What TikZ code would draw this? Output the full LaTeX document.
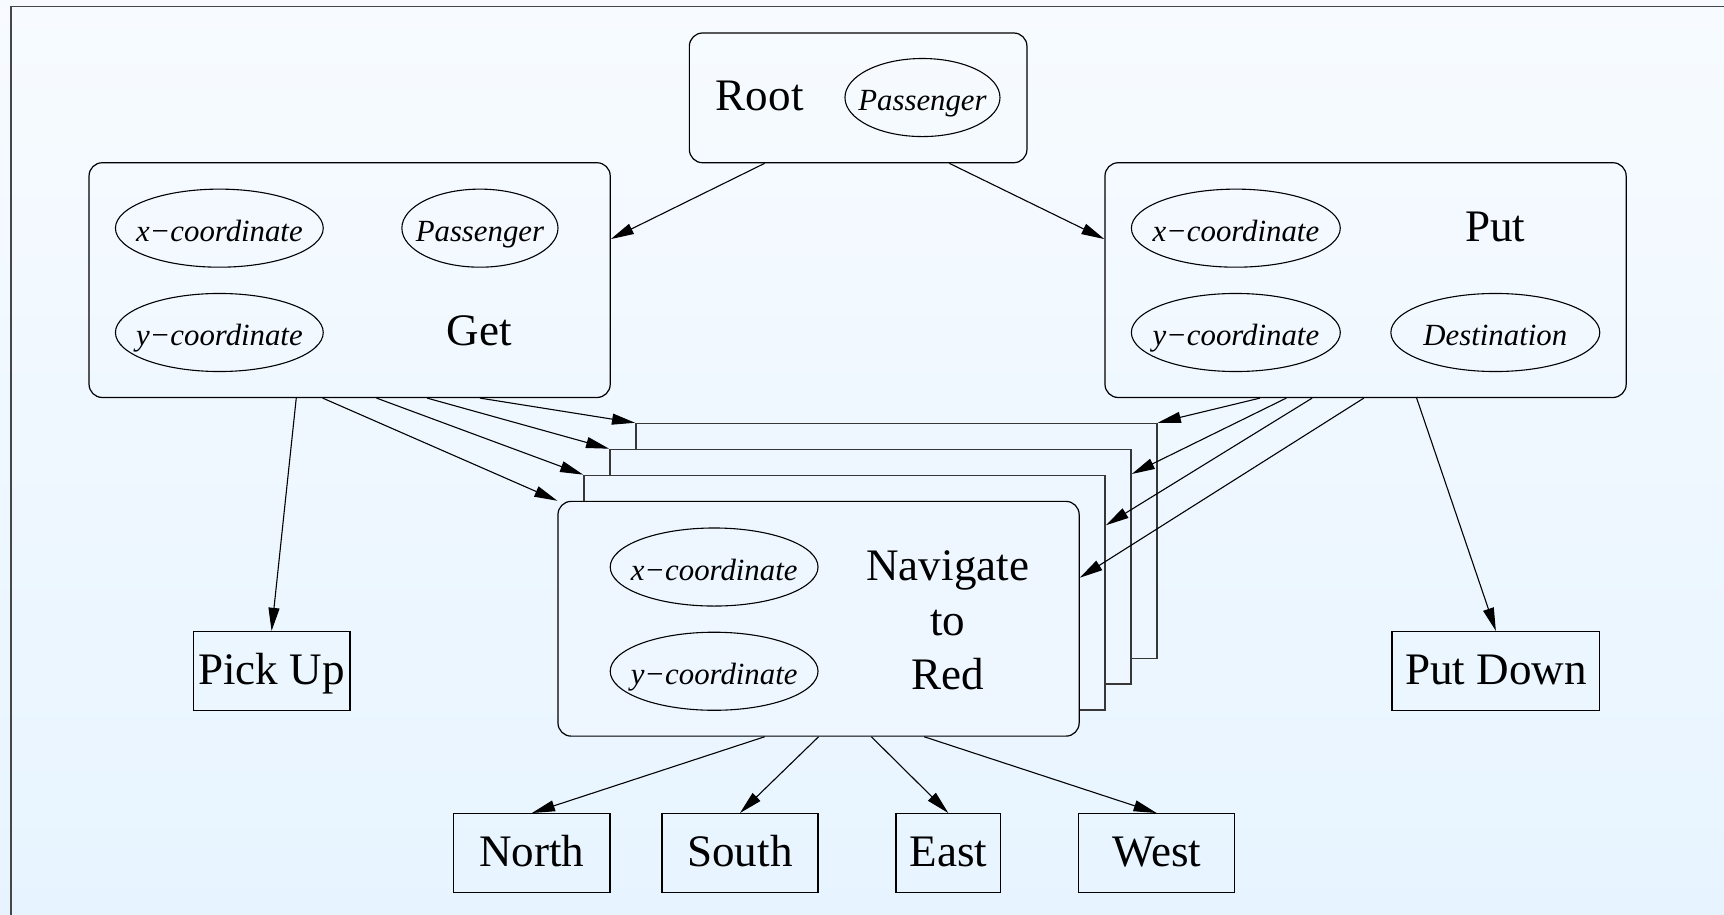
\documentclass[tikz,border=0pt]{standalone}
\usepackage{fontspec}
\setmainfont{Liberation Serif}
\usetikzlibrary{arrows.meta,shapes.geometric,calc}
\definecolor{bgtop}{RGB}{247,251,255}
\definecolor{bgbot}{RGB}{231,244,255}
\definecolor{stackfill}{RGB}{238,247,255}
\definecolor{framecol}{RGB}{70,70,70}
\definecolor{stackline}{RGB}{55,55,55}
\begin{document}
\begin{tikzpicture}[x=0.5pt,y=-0.5pt,
  rbox/.style={draw,rectangle,rounded corners=6pt,inner sep=0pt,line width=0.55pt},
  stackbox/.style={draw=stackline,fill=stackfill,rectangle,inner sep=0pt,line width=0.7pt,
    minimum width=237pt,minimum height=106.75pt},
  ell/.style={draw,ellipse,inner sep=0pt,minimum height=35.5pt,line width=0.5pt},
  ital/.style={inner sep=0pt,font=\fontsize{14}{16}\selectfont\itshape,text height=12pt,text depth=0pt},
  big/.style={inner sep=0pt,font=\fontsize{20.5}{25}\selectfont},
  leaf/.style={draw,rectangle,inner sep=0pt,line width=0.55pt,minimum height=36pt,
    text height=12pt,text depth=0pt,font=\fontsize{20.5}{25}\selectfont},
  edge/.style={line width=0.5pt,-{Triangle[length=10.5pt,width=5pt]}}]
\useasboundingbox (0,0) rectangle (1568,832);
\shade[top color=bgtop,bottom color=bgbot] (0,0) rectangle (1568,832);
\draw[framecol,line width=0.9pt] (10,840) -- (10,5.9) -- (1575,5.9);

% Root
\node[rbox,minimum width=153.5pt,minimum height=59pt] (root) at (780.5,89) {};
\node[big,anchor=base] (rootl) at (691,100.7) {Root};
\node[ell,minimum width=70.5pt] (rootp) at (839,88.7) {};
\node[ital] (rootpt) at (rootp) {Passenger};

% Get
\node[rbox,minimum width=237pt,minimum height=106.75pt] (get) at (318,254.75) {};
\node[ell,minimum width=94.5pt] (getx) at (199.5,207.5) {};
\node[ital] (getxt) at (getx) {x−coordinate};
\node[ell,minimum width=71pt] (getp) at (436.5,207.5) {};
\node[ital] (getpt) at (getp) {Passenger};
\node[ell,minimum width=94.5pt] (gety) at (199.5,302.4) {};
\node[ital] (getyt) at (gety) {y−coordinate};
\node[big,anchor=base] (getl) at (436,313.8) {Get};

% Put
\node[rbox,minimum width=237pt,minimum height=106.75pt] (put) at (1242,254.75) {};
\node[ell,minimum width=95pt] (putx) at (1124,207.5) {};
\node[ital] (putxt) at (putx) {x−coordinate};
\node[ell,minimum width=95pt] (puty) at (1124,302.4) {};
\node[ital] (putyt) at (puty) {y−coordinate};
\node[ell,minimum width=95pt] (putd) at (1360,302.4) {};
\node[ital] (putdt) at (putd) {Destination};
\node[big,anchor=base] (putl) at (1360,219.8) {Put};

% Navigate stack
\node[stackbox] (nav1) at (815.3,491.95) {};
\node[stackbox] (nav2) at (791.7,515.55) {};
\node[stackbox] (nav3) at (768.1,539.15) {};
\node[rbox,fill=stackfill,minimum width=237pt,minimum height=106.75pt] (nav) at (744.5,562.75) {};
\node[ell,minimum width=94.5pt] (navx) at (649.5,515.7) {};
\node[ital] (navxt) at (navx) {x−coordinate};
\node[ell,minimum width=94.5pt] (navy) at (649.5,610.5) {};
\node[ital] (navyt) at (navy) {y−coordinate};
\node[big,align=center,anchor=north] (navl) at (862,500) {Navigate\\to\\Red};

% Leaves
\node[leaf,minimum width=71.25pt] (pick) at (247,610.35) {Pick Up};
\node[leaf,minimum width=94.5pt] (pdown) at (1360.5,610.35) {Put Down};
\node[leaf,minimum width=71pt] (nN) at (483.75,776) {North};
\node[leaf,minimum width=71pt] (nS) at (673,776) {South};
\node[leaf,minimum width=47.5pt] (nE) at (862.5,776) {East};
\node[leaf,minimum width=71pt] (nW) at (1052,776) {West};

% Edges
\draw[edge] ($(root.south west)+(69,0)$) -- ($(get.north east)+(0,70)$);
\draw[edge] ($(root.south west)+(237,0)$) -- ($(put.north west)+(0,70)$);
\draw[edge] ($(get.south west)+(189,0)$) -- (pick.north);
\draw[edge] ($(get.south west)+(213,0)$) -- (nav.north west);
\draw[edge] ($(get.south west)+(262,0)$) -- (nav3.north west);
\draw[edge] ($(get.south west)+(308,0)$) -- (nav2.north west);
\draw[edge] ($(get.south west)+(356,0)$) -- (nav1.north west);
\draw[edge] ($(put.south west)+(141.6,0)$) -- (nav1.north east);
\draw[edge] ($(put.south west)+(165.5,0)$) -- ($(nav2.north east)+(0,23)$);
\draw[edge] ($(put.south west)+(189,0)$) -- ($(nav3.north east)+(0,46)$);
\draw[edge] ($(put.south west)+(236,0)$) -- ($(nav.north east)+(0,70)$);
\draw[edge] ($(put.south west)+(284,0)$) -- (pdown.north);
\draw[edge] ($(nav.south)+(-49,0)$) -- (nN.north);
\draw[edge] ($(nav.south)+(0,0)$) -- (nS.north);
\draw[edge] ($(nav.south)+(48,0)$) -- (nE.north);
\draw[edge] ($(nav.south)+(96,0)$) -- (nW.north);
\end{tikzpicture}
\end{document}
